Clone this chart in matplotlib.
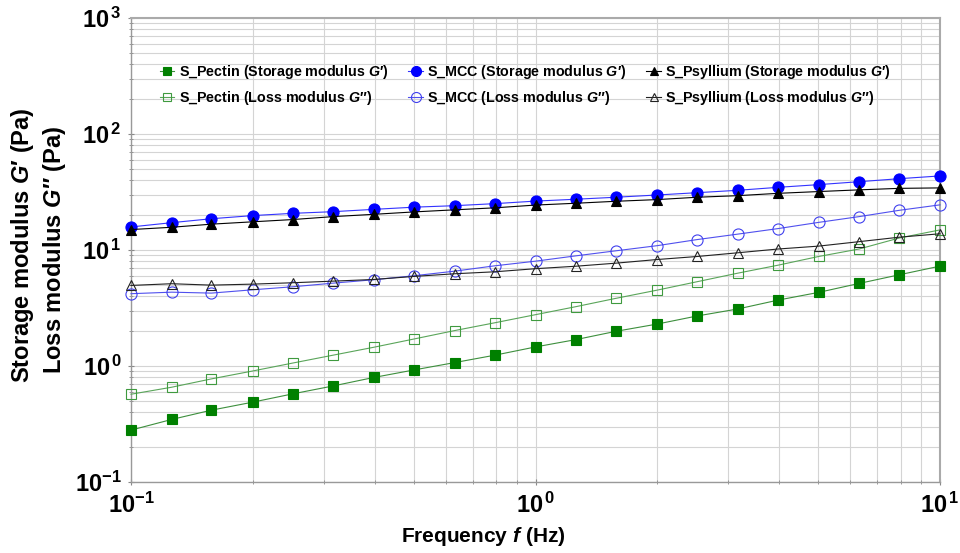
"""
Frequency sweep - storage and loss modulus of S_Pectin, S_MCC and S_Psyllium
"""
import numpy as np
import matplotlib
matplotlib.use('Agg')
import matplotlib.pyplot as plt
from matplotlib.ticker import LogLocator, FixedLocator, FixedFormatter, NullFormatter

plt.rcParams['font.family'] = ['Liberation Sans', 'DejaVu Sans']
plt.rcParams['mathtext.fontset'] = 'custom'
plt.rcParams['mathtext.rm'] = 'Liberation Sans:bold'
plt.rcParams['mathtext.bf'] = 'Liberation Sans:bold'
plt.rcParams['mathtext.it'] = 'Liberation Sans:italic:bold'

# Frequency (Hz)
freq = [0.1, 0.126, 0.158, 0.2, 0.251, 0.316, 0.398, 0.501, 0.631, 0.794,
        1.0, 1.26, 1.58, 2.0, 2.51, 3.16, 3.98, 5.01, 6.31, 7.94, 10.0]

# Moduli (Pa)
pectin_storage = [0.280, 0.346, 0.416, 0.488, 0.575, 0.673, 0.796, 0.925, 1.07, 1.24,
                  1.46, 1.69, 1.99, 2.30, 2.70, 3.10, 3.70, 4.31, 5.15, 6.12, 7.26]
pectin_loss = [0.571, 0.656, 0.774, 0.906, 1.06, 1.24, 1.45, 1.71, 2.02, 2.36,
               2.77, 3.25, 3.83, 4.51, 5.33, 6.31, 7.40, 8.79, 10.2, 12.7, 14.9]
mcc_storage = [15.8, 17.2, 18.6, 19.8, 20.7, 21.4, 22.4, 23.4, 24.1, 25.1,
               26.4, 27.4, 28.5, 29.8, 31.2, 32.7, 34.7, 36.6, 38.8, 41.2, 43.5]
mcc_loss = [4.20, 4.33, 4.25, 4.54, 4.82, 5.18, 5.54, 6.00, 6.57, 7.31,
            8.01, 8.91, 9.84, 10.9, 12.3, 13.7, 15.3, 17.3, 19.4, 22.0, 24.5]
psyllium_storage = [15.0, 15.7, 16.7, 17.5, 18.3, 19.4, 20.3, 21.3, 22.2, 23.1,
                    24.4, 25.3, 26.3, 27.2, 28.5, 29.4, 30.8, 31.9, 33.0, 34.0, 34.3]
psyllium_loss = [4.95, 5.12, 4.98, 5.08, 5.22, 5.39, 5.57, 5.92, 6.24, 6.49,
                 6.90, 7.25, 7.70, 8.28, 8.79, 9.46, 10.2, 10.8, 11.8, 12.9, 13.8]

x_ticks = [0.1, 1, 10]
x_tick_labels = [r'$\mathbf{10^{-1}}$', r'$\mathbf{10^{\,0}}$', r'$\mathbf{10^{\,1}}$']
y_ticks = [0.1, 1, 10, 100, 1000]
y_tick_labels = [r'$\mathbf{10^{-1}}$', r'$\mathbf{10^{\,0}}$', r'$\mathbf{10^{\,1}}$',
                 r'$\mathbf{10^{\,2}}$', r'$\mathbf{10^{\,3}}$']


def create_plot():
    fig = plt.figure(figsize=(9.6, 5.53), dpi=100)
    ax = fig.add_axes([131/960, 1 - 482/553, (940 - 131)/960, (482 - 18)/553])

    series = [
        (pectin_storage, "S_Pectin (Storage modulus $G$′)", 's', '#008000', '#008000', '#3d8f3d', 6.5),
        (pectin_loss, "S_Pectin (Loss modulus $G$″)", 's', 'none', '#3f9a3f', '#5aa55a', 6.5),
        (mcc_storage, "S_MCC (Storage modulus $G$′)", 'o', '#0000ff', '#0000ff', '#3333ff', 8),
        (mcc_loss, "S_MCC (Loss modulus $G$″)", 'o', 'none', '#4040ee', '#5050ee', 8),
        (psyllium_storage, "S_Psyllium (Storage modulus $G$′)", '^', 'black', 'black', 'black', 7),
        (psyllium_loss, "S_Psyllium (Loss modulus $G$″)", '^', 'none', '#222222', '#222222', 7),
    ]
    for vals, label, marker, face, edge, line_color, ms in series:
        ax.plot(freq, vals, color=line_color, linewidth=0.8, marker=marker,
                markersize=ms, markerfacecolor=face, markeredgecolor=edge,
                markeredgewidth=0.8, label=label, clip_on=False, zorder=3)

    ax.set_xscale('log')
    ax.set_yscale('log')
    ax.set_xlim(0.1, 10)
    ax.set_ylim(0.1, 1000)

    # Ticks
    ax.xaxis.set_major_locator(FixedLocator(x_ticks))
    ax.xaxis.set_major_formatter(FixedFormatter(x_tick_labels))
    ax.yaxis.set_major_locator(FixedLocator(y_ticks))
    ax.yaxis.set_major_formatter(FixedFormatter(y_tick_labels))
    for axis in (ax.xaxis, ax.yaxis):
        axis.set_minor_locator(LogLocator(base=10, subs=np.arange(2, 10), numticks=20))
        axis.set_minor_formatter(NullFormatter())
    ax.tick_params(which='both', direction='inout', color='#888888', labelsize=17)
    ax.tick_params(which='major', length=5)
    ax.tick_params(which='minor', length=3)
    ax.tick_params(axis='x', pad=5)
    ax.tick_params(axis='y', pad=4)

    # Grid
    ax.grid(which='both', color='#d4d4d4', linewidth=0.8)
    ax.set_axisbelow(True)
    for side in ['left', 'bottom']:
        ax.spines[side].set_color('#999999')
        ax.spines[side].set_linewidth(1.0)
    for side in ['top', 'right']:
        ax.spines[side].set_color('#aaaaaa')
        ax.spines[side].set_linewidth(1.5)

    # Labels
    fig.text(23/960, 1 - 245/553, "Storage modulus $G$′ (Pa)", rotation=90,
             ha='center', va='center', fontsize=17, fontweight='bold')
    fig.text(54/960, 1 - 250/553, "Loss modulus $G$″ (Pa)", rotation=90,
             ha='center', va='center', fontsize=17, fontweight='bold')
    fig.text(483/960, 1 - 536/553, 'Frequency $f$ (Hz)', ha='center', va='center',
             fontsize=15, fontweight='bold')

    # Legend
    ax.legend(loc='upper left', bbox_to_anchor=(0.02, 0.93), ncol=3, frameon=False,
              prop={'size': 10.3, 'weight': 'bold'}, handlelength=1.0,
              handletextpad=0.3, columnspacing=1.4, labelspacing=0.5,
              markerscale=0.9)
    return fig


def main():
    fig = create_plot()
    fig.savefig('out.png', dpi=100, facecolor='white')
    plt.close(fig)


if __name__ == '__main__':
    main()
